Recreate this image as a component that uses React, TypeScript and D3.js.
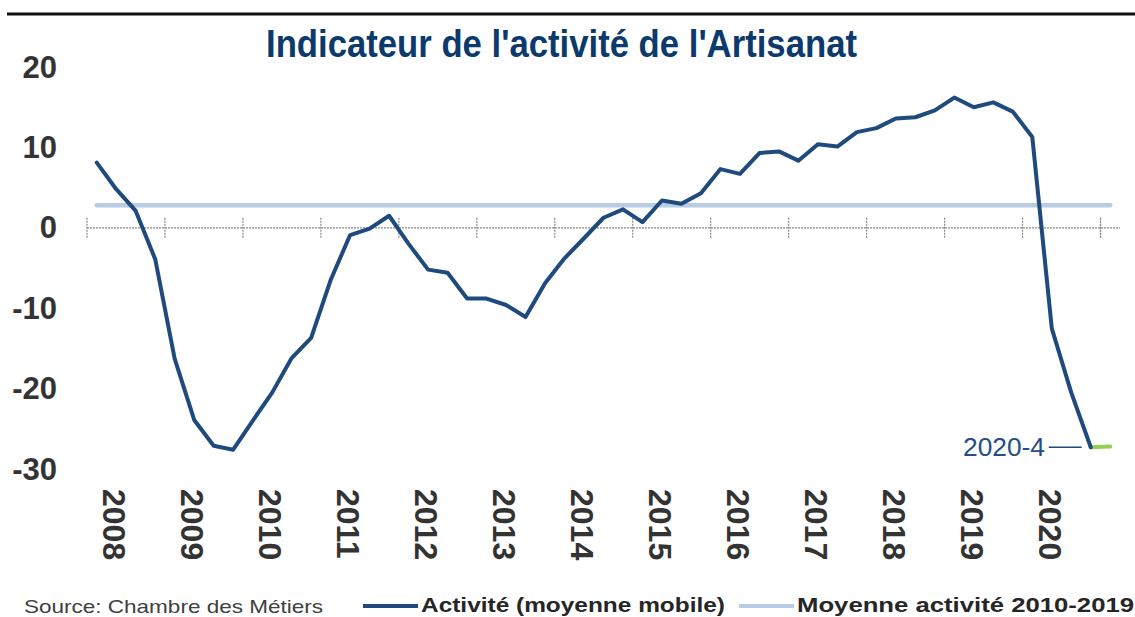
import React from "react";
import * as d3 from "d3";

const years = [2008, 2009, 2010, 2011, 2012, 2013, 2014, 2015, 2016, 2017, 2018, 2019, 2020];
const quarters = [1, 2, 3, 4];
const categories: string[] = [...years.flatMap((y) => quarters.map((q) => `${y}-${q}`)), "2021-1"];

const activite: number[] = [
  8.1, 4.8, 2.1, -3.9,
  -16.3, -23.9, -27.1, -27.6,
  -24.0, -20.5, -16.2, -13.7,
  -6.5, -0.9, -0.1, 1.5,
  -2.0, -5.2, -5.6, -8.8,
  -8.8, -9.6, -11.1, -6.9,
  -3.8, -1.3, 1.25, 2.3,
  0.7, 3.4, 3.0, 4.3,
  7.3, 6.7, 9.3, 9.5,
  8.35, 10.4, 10.1, 11.9,
  12.4, 13.6, 13.75, 14.6,
  16.2, 15.0, 15.6, 14.45,
  11.3, -12.5, -20.5, -27.3,
];
const extension: { cat: string; v: number }[] = [
  { cat: "2020-4", v: -27.3 },
  { cat: "2021-1", v: -27.2 },
];
const moyenne2010_2019 = 2.8;
const yTicks = [20, 10, 0, -10, -20, -30];
const annotationLabel = "2020-4";

const W = 1135;
const H = 617;

export default function App() {
  const x = d3.scaleBand<string>().domain(categories).range([87, 1120]).padding(0);
  const bw = x.bandwidth();
  const cx = (c: string) => (x(c) as number) + bw / 2;
  const y = d3.scaleLinear().domain([-30, 20]).range([469, 67]);

  const line = d3
    .line<number>()
    .x((_, i) => cx(categories[i]))
    .y((d) => y(d));
  const extLine = d3
    .line<{ cat: string; v: number }>()
    .x((d) => cx(d.cat))
    .y((d) => y(d.v));

  const tickCats = categories.filter((_, i) => i % 4 === 0);
  const lastIdx = activite.length - 1;
  const lastX = cx(categories[lastIdx]);
  const lastY = y(activite[lastIdx]);

  const darkBlue = "#1f4a7e";
  const lightBlue = "#b8cce4";

  return (
    <svg
      width={W}
      height={H}
      style={{ position: "absolute", left: 0, top: 0, display: "block", background: "#fff" }}
    >
      {/* top rule */}
      <line x1={7} x2={W} y1={14} y2={14} stroke="#111" strokeWidth={3} />

      {/* title */}
      <text
        x={266}
        y={57}
        fontFamily="Liberation Sans, Arial, sans-serif"
        fontWeight="bold"
        fontSize={39}
        fill="#0c3a6d"
        textLength={591}
        lengthAdjust="spacingAndGlyphs"
      >
        Indicateur de l'activité de l'Artisanat
      </text>

      {/* y tick labels */}
      {yTicks.map((t) => (
        <text
          key={t}
          x={57}
          y={y(t)}
          textAnchor="end"
          dominantBaseline="central"
          fontFamily="Liberation Sans, Arial, sans-serif"
          fontWeight="bold"
          fontSize={31}
          fill="#333"
        >
          {t}
        </text>
      ))}

      {/* zero axis */}
      <line
        x1={87}
        x2={1120}
        y1={y(0)}
        y2={y(0)}
        stroke="#8a8a8a"
        strokeWidth={1.2}
        strokeDasharray="2,1"
      />
      {[...tickCats, "__end"].map((c) => {
        const tx = c === "__end" ? (x("2021-1") as number) : (x(c) as number);
        return (
          <line
            key={c}
            x1={tx}
            x2={tx}
            y1={y(0) - 10}
            y2={y(0) + 10}
            stroke="#8a8a8a"
            strokeWidth={1.2}
            strokeDasharray="2,1"
          />
        );
      })}

      {/* x year labels */}
      {years.map((yr, k) => {
        const lx = (x(tickCats[k]) as number) + 1.4 * bw;
        return (
          <text
            key={yr}
            transform={`translate(${lx},489) rotate(90)`}
            dominantBaseline="central"
            fontFamily="Liberation Sans, Arial, sans-serif"
            fontWeight="bold"
            fontSize={32}
            fill="#333"
          >
            {yr}
          </text>
        );
      })}

      {/* mean line */}
      <line
        x1={cx(categories[0])}
        x2={cx(categories[categories.length - 1])}
        y1={y(moyenne2010_2019)}
        y2={y(moyenne2010_2019)}
        stroke={lightBlue}
        strokeWidth={4.5}
        strokeLinecap="round"
      />

      {/* green extension */}
      <path d={extLine(extension) || ""} fill="none" stroke="#92d050" strokeWidth={4} strokeLinecap="round" />

      {/* activity line */}
      <path
        d={line(activite) || ""}
        fill="none"
        stroke={darkBlue}
        strokeWidth={4}
        strokeLinejoin="round"
        strokeLinecap="round"
      />

      {/* annotation */}
      <line x1={lastX - 42} x2={lastX - 9} y1={lastY} y2={lastY} stroke={darkBlue} strokeWidth={1.5} />
      <text
        x={963}
        y={lastY}
        dominantBaseline="central"
        fontFamily="Liberation Sans, Arial, sans-serif"
        fontSize={25}
        fill="#234f86"
        textLength={82}
        lengthAdjust="spacingAndGlyphs"
      >
        {annotationLabel}
      </text>

      {/* footer */}
      <text
        x={24}
        y={613}
        fontFamily="Liberation Sans, Arial, sans-serif"
        fontSize={19}
        fill="#404040"
        textLength={299}
        lengthAdjust="spacingAndGlyphs"
      >
        Source: Chambre des Métiers
      </text>
      <line x1={363} x2={418} y1={606} y2={606} stroke={darkBlue} strokeWidth={4} />
      <text
        x={421}
        y={612}
        fontFamily="Liberation Sans, Arial, sans-serif"
        fontWeight="bold"
        fontSize={21}
        fill="#262626"
        textLength={304}
        lengthAdjust="spacingAndGlyphs"
      >
        Activité (moyenne mobile)
      </text>
      <line x1={739} x2={794} y1={606} y2={606} stroke={lightBlue} strokeWidth={4} />
      <text
        x={797}
        y={612}
        fontFamily="Liberation Sans, Arial, sans-serif"
        fontWeight="bold"
        fontSize={21}
        fill="#262626"
        textLength={337}
        lengthAdjust="spacingAndGlyphs"
      >
        Moyenne activité 2010-2019
      </text>
    </svg>
  );
}
